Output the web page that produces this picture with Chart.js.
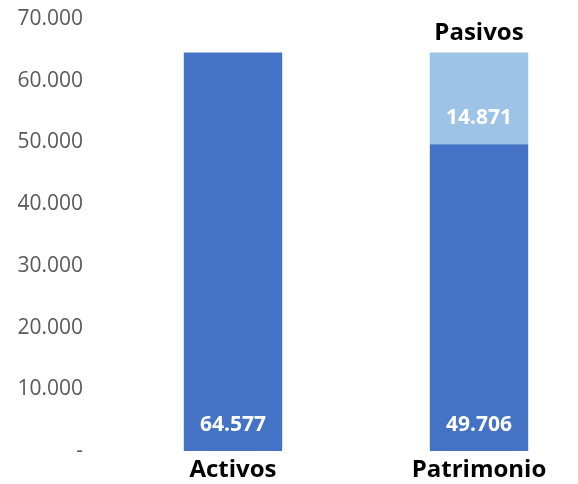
<!DOCTYPE html>
<html>
<head>
<meta charset="utf-8">
<script src="https://cdn.jsdelivr.net/npm/chart.js@4"></script>
<style>
html,body{margin:0;padding:0;background:#fff;overflow:hidden;}
#wrap{width:578px;height:484px;position:relative;overflow:hidden;}
canvas{display:block;}
</style>
</head>
<body>
<div id="wrap"><canvas id="c" width="602" height="484" style="width:602px;height:484px"></canvas></div>
<script>
const categories = ['Activos', 'Patrimonio'];
const baseValues = [64577, 49706];
const pasivosValues = [null, 14871];
const seriesNames = ['Base', 'Pasivos'];
const yTicks = [0, 10000, 20000, 30000, 40000, 50000, 60000, 70000];

const FONT = "'Open Sans', 'Liberation Sans', sans-serif";

function fmt(v) {
  if (v === 0) return '-';
  return String(Math.round(v)).replace(/\B(?=(\d{3})+(?!\d))/g, '.');
}

const labelPlugin = {
  id: 'labels',
  afterDatasetsDraw(chart) {
    const ctx = chart.ctx;
    ctx.save();
    ctx.textAlign = 'center';
    ctx.textBaseline = 'middle';
    chart.data.datasets.forEach((ds, di) => {
      const meta = chart.getDatasetMeta(di);
      meta.data.forEach((bar, i) => {
        const v = ds.data[i];
        if (v == null) return;
        ctx.fillStyle = '#ffffff';
        ctx.font = "bold 21px " + FONT;
        ctx.fillText(fmt(v), bar.x, bar.base - 26);
        if (di === 1) {
          ctx.fillStyle = '#000000';
          ctx.font = "bold 24px " + FONT;
          ctx.fillText(ds.label, bar.x, bar.y - 19);
        }
      });
    });
    ctx.restore();
  }
};

new Chart(document.getElementById('c'), {
  type: 'bar',
  data: {
    labels: categories,
    datasets: [
      { label: seriesNames[0], data: baseValues, backgroundColor: '#4472C4', stack: 's' },
      { label: seriesNames[1], data: pasivosValues, backgroundColor: '#9DC3E6', stack: 's' }
    ]
  },
  options: {
    responsive: false,
    animation: false,
    devicePixelRatio: 1,
    layout: { padding: { top: 19, left: 0, right: 0, bottom: 0 } },
    plugins: { legend: { display: false }, tooltip: { enabled: false } },
    datasets: { bar: { barPercentage: 0.4, categoryPercentage: 1.0 } },
    scales: {
      x: {
        stacked: true,
        grid: { display: false, drawTicks: false },
        border: { display: false },
        ticks: { color: '#000000', font: { family: FONT, size: 24, weight: 'bold' }, padding: 5 },
        afterFit(s) { s.height = 33; }
      },
      y: {
        stacked: true,
        min: 0,
        max: 70000,
        grid: { display: false, drawTicks: true, tickLength: 27 },
        border: { display: false },
        afterBuildTicks(s) { s.ticks = yTicks.map(v => ({ value: v })); },
        ticks: {
          color: '#595959',
          font: { family: FONT, size: 21 },
          padding: 0,
          callback: (v) => fmt(v)
        },
        afterFit(s) { s.width = 110; }
      }
    }
  },
  plugins: [labelPlugin]
});
</script>
</body>
</html>
